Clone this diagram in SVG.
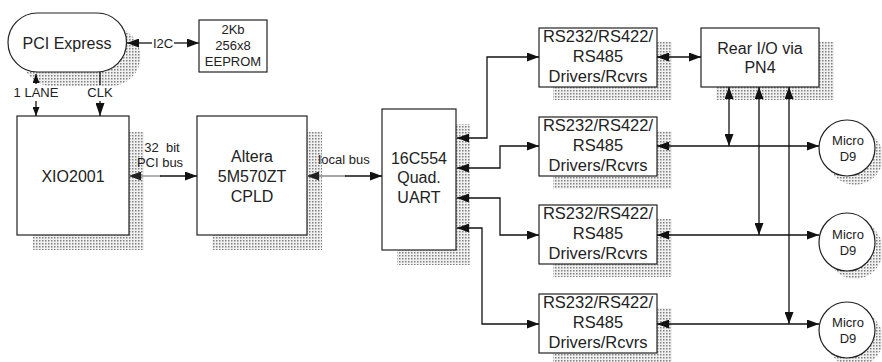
<svg xmlns="http://www.w3.org/2000/svg" width="882" height="362" viewBox="0 0 882 362">
<style>
.box{fill:#fff;stroke:#222;stroke-width:1.2}
.sh{fill:url(#dots)}
.t{font-family:"Liberation Sans",Arial,sans-serif;fill:#222;text-anchor:middle}
.t16{font-size:16px}
.t165{font-size:16.5px}
.t13{font-size:13px}
.ln{fill:none;stroke:#111;stroke-width:1.3}
.gr{fill:none;stroke:#888;stroke-width:1.3}
</style>
<defs>
<pattern id="dots" width="3" height="3" patternUnits="userSpaceOnUse">
<rect width="3" height="3" fill="#f0f0f0"/>
<rect width="1.5" height="1.5" fill="#808080"/>
</pattern>
<marker id="a" viewBox="0 0 12 9" refX="12" refY="4.5" markerWidth="12" markerHeight="9" markerUnits="userSpaceOnUse" orient="auto-start-reverse">
<path d="M0,0 L12,4.5 L0,9 z" fill="#111"/>
</marker>
<marker id="ag" viewBox="0 0 12 9" refX="12" refY="4.5" markerWidth="12" markerHeight="9" markerUnits="userSpaceOnUse" orient="auto-start-reverse">
<path d="M0,0 L12,4.5 L0,9 z" fill="#222"/>
</marker>
<marker id="as" viewBox="0 0 9 7" refX="9" refY="3.5" markerWidth="9" markerHeight="7" markerUnits="userSpaceOnUse" orient="auto-start-reverse">
<path d="M0,0 L9,3.5 L0,7 z" fill="#111"/>
</marker>
<marker id="ab" viewBox="0 0 13 9" refX="13" refY="4.5" markerWidth="13" markerHeight="9" markerUnits="userSpaceOnUse" orient="auto-start-reverse">
<path d="M0,0 L13,4.5 L0,9 z" fill="#111"/>
</marker>
</defs>
<rect width="882" height="362" fill="#fff"/>

<g id="pci-express">
<rect class="sh" x="22" y="27" width="118.5" height="59" rx="29.5"/>
<rect class="box" x="8" y="13" width="118.5" height="59" rx="29.5"/>
<text class="t t16" x="67" y="49">PCI Express</text>
</g>

<g id="eeprom">
<rect class="box" x="199" y="20" width="68" height="52"/>
<text class="t t13" x="233" y="34">2Kb</text>
<text class="t t13" x="233" y="50">256x8</text>
<text class="t t13" x="233" y="66">EEPROM</text>
</g>

<g id="xio2001">
<rect class="sh" x="33" y="132" width="111" height="118"/>
<rect class="box" x="17" y="116" width="112" height="119"/>
<text class="t t16" x="73" y="182">XIO2001</text>
</g>

<g id="altera">
<rect class="sh" x="212" y="132" width="110" height="118"/>
<rect class="box" x="197" y="116" width="110" height="119"/>
<text class="t t16" x="252" y="162">Altera</text>
<text class="t t16" x="252" y="182">5M570ZT</text>
<text class="t t16" x="252" y="202">CPLD</text>
</g>

<g id="uart">
<rect class="sh" x="397" y="124" width="73" height="141"/>
<rect class="box" x="382" y="109" width="74" height="141"/>
<text class="t t16" x="419" y="164">16C554</text>
<text class="t t16" x="419" y="183">Quad.</text>
<text class="t t16" x="419" y="203">UART</text>
</g>

<g id="driver1">
<rect class="sh" x="553" y="42" width="119" height="58"/>
<rect class="box" x="539" y="28" width="118" height="59"/>
<text class="t t165" x="598" y="42">RS232/RS422/</text>
<text class="t t165" x="598" y="62">RS485</text>
<text class="t t165" x="598" y="82">Drivers/Rcvrs</text>
</g>

<g id="driver2">
<rect class="sh" x="553" y="131" width="119" height="58"/>
<rect class="box" x="539" y="117" width="118" height="59"/>
<text class="t t165" x="598" y="131">RS232/RS422/</text>
<text class="t t165" x="598" y="151">RS485</text>
<text class="t t165" x="598" y="171">Drivers/Rcvrs</text>
</g>

<g id="driver3">
<rect class="sh" x="553" y="219" width="119" height="58"/>
<rect class="box" x="539" y="205" width="118" height="59"/>
<text class="t t165" x="598" y="219">RS232/RS422/</text>
<text class="t t165" x="598" y="239">RS485</text>
<text class="t t165" x="598" y="259">Drivers/Rcvrs</text>
</g>

<g id="driver4">
<rect class="sh" x="553" y="308" width="119" height="58"/>
<rect class="box" x="539" y="294" width="118" height="59"/>
<text class="t t165" x="598" y="308">RS232/RS422/</text>
<text class="t t165" x="598" y="328">RS485</text>
<text class="t t165" x="598" y="348">Drivers/Rcvrs</text>
</g>

<g id="rear-io">
<rect class="sh" x="716" y="42" width="118" height="58"/>
<rect class="box" x="701" y="28" width="118" height="59"/>
<text class="t t16" x="760" y="54">Rear I/O via</text>
<text class="t t16" x="760" y="73">PN4</text>
</g>

<g id="micro-d9-1">
<ellipse class="sh" cx="855" cy="157" rx="28" ry="28"/>
<ellipse class="box" cx="847" cy="148" rx="28" ry="28"/>
<text class="t t13" x="848" y="145">Micro</text>
<text class="t t13" x="848" y="161">D9</text>
</g>

<g id="micro-d9-2">
<ellipse class="sh" cx="855" cy="250" rx="28" ry="29"/>
<ellipse class="box" cx="847" cy="242" rx="28" ry="29"/>
<text class="t t13" x="848" y="239">Micro</text>
<text class="t t13" x="848" y="255">D9</text>
</g>

<g id="micro-d9-3">
<ellipse class="sh" cx="855" cy="339" rx="28" ry="28"/>
<ellipse class="box" cx="847" cy="330" rx="28" ry="28"/>
<text class="t t13" x="848" y="327">Micro</text>
<text class="t t13" x="848" y="343">D9</text>
</g>

<g id="connectors">
<path class="ln" d="M127,43 H152" marker-start="url(#a)"/>
<path class="ln" d="M174,43 H199" marker-end="url(#a)"/>
<text class="t t13" x="163" y="48">I2C</text>

<path class="ln" d="M36,74 V84" marker-start="url(#as)"/>
<path class="ln" d="M36,101 V116" marker-end="url(#as)"/>
<text class="t t13" x="36" y="97">1 LANE</text>

<path class="ln" d="M100,72 V85"/>
<path class="ln" d="M100,101 V116" marker-end="url(#ab)"/>
<text class="t t13" x="100" y="97">CLK</text>

<path class="gr" d="M129,176 H161" marker-start="url(#ag)"/>
<path class="ln" d="M160,176 H197" marker-end="url(#a)"/>
<text class="t t13" x="162" y="152">32&#160; bit</text>
<text class="t t13" x="160" y="167">PCI bus</text>

<path class="gr" d="M307,176 H346" marker-start="url(#ag)"/>
<path class="ln" d="M345,176 H382" marker-end="url(#a)"/>
<text class="t t13" x="344" y="164">local bus</text>

<path class="ln" d="M457,138 H487 V57 H539" marker-start="url(#a)" marker-end="url(#a)"/>
<path class="ln" d="M457,168 H500 V146 H539" marker-start="url(#a)" marker-end="url(#a)"/>
<path class="ln" d="M457,198 H500 V235 H539" marker-start="url(#a)" marker-end="url(#a)"/>
<path class="ln" d="M457,228 H482 V324 H539" marker-start="url(#a)" marker-end="url(#a)"/>

<path class="ln" d="M657,57 H701" marker-start="url(#a)" marker-end="url(#a)"/>

<path class="ln" d="M657,146 H819" marker-start="url(#a)" marker-end="url(#a)"/>
<path class="ln" d="M657,235 H819" marker-start="url(#a)" marker-end="url(#a)"/>
<path class="ln" d="M657,324 H819" marker-start="url(#a)" marker-end="url(#a)"/>

<path class="ln" d="M729,87 V146" marker-start="url(#a)" marker-end="url(#a)"/>
<path class="ln" d="M759,87 V235" marker-start="url(#a)" marker-end="url(#a)"/>
<path class="ln" d="M789,87 V324" marker-start="url(#a)" marker-end="url(#a)"/>
</g>
</svg>
